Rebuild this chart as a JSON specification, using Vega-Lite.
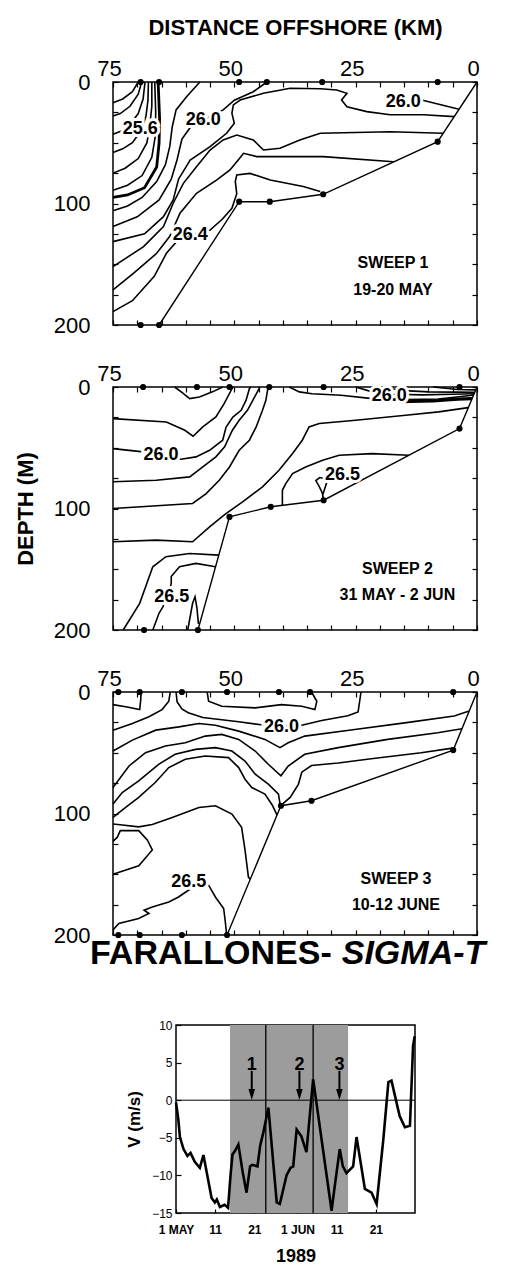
{
"$schema": "https://vega.github.io/schema/vega-lite/v6.json",
"autosize": {"type": "none"},
"padding": {"left": 113, "top": 82, "right": 392, "bottom": 1187},
"background": "white",
"config": {
  "font": "Liberation Sans",
  "view": {"stroke": "black", "strokeWidth": 1.5},
  "axis": {"labelColor": "black", "titleColor": "black", "tickColor": "black", "domainColor": "black", "labelFont": "Liberation Sans", "titleFont": "Liberation Sans", "grid": false},
  "text": {"color": "black"}
},
"datasets": {
  "ct": [
    {"p":1,"id":"1a","km":69.8,"d":0},{"p":1,"id":"1a","km":71,"d":8},{"p":1,"id":"1a","km":73,"d":14},{"p":1,"id":"1a","km":75,"d":17},
    {"p":1,"id":"1b","km":69.1,"d":0},{"p":1,"id":"1b","km":69.8,"d":10},{"p":1,"id":"1b","km":71.5,"d":20},{"p":1,"id":"1b","km":73.5,"d":26},{"p":1,"id":"1b","km":75,"d":28},
    {"p":1,"id":"1c","km":68.4,"d":0},{"p":1,"id":"1c","km":68.8,"d":14},{"p":1,"id":"1c","km":69.8,"d":26},{"p":1,"id":"1c","km":71.5,"d":35},{"p":1,"id":"1c","km":73,"d":40},{"p":1,"id":"1c","km":75,"d":43},
    {"p":1,"id":"1d","km":67.7,"d":0},{"p":1,"id":"1d","km":67.8,"d":15},{"p":1,"id":"1d","km":68.2,"d":28},{"p":1,"id":"1d","km":69.2,"d":40},{"p":1,"id":"1d","km":71,"d":50},{"p":1,"id":"1d","km":73,"d":55},{"p":1,"id":"1d","km":75,"d":58},
    {"p":1,"id":"1e","km":67,"d":0},{"p":1,"id":"1e","km":67,"d":20},{"p":1,"id":"1e","km":67.4,"d":35},{"p":1,"id":"1e","km":68,"d":50},{"p":1,"id":"1e","km":69.8,"d":63},{"p":1,"id":"1e","km":72.5,"d":71},{"p":1,"id":"1e","km":75,"d":75},
    {"p":1,"id":"1f","km":66.4,"d":0},{"p":1,"id":"1f","km":66.2,"d":25},{"p":1,"id":"1f","km":66.3,"d":45},{"p":1,"id":"1f","km":67,"d":62},{"p":1,"id":"1f","km":69,"d":77},{"p":1,"id":"1f","km":72,"d":85},{"p":1,"id":"1f","km":75,"d":89},
    {"p":1,"id":"1g","km":65.7,"d":0},{"p":1,"id":"1g","km":65.4,"d":30},{"p":1,"id":"1g","km":65.5,"d":50},{"p":1,"id":"1g","km":66,"d":70},{"p":1,"id":"1g","km":68.5,"d":87},{"p":1,"id":"1g","km":72,"d":93},{"p":1,"id":"1g","km":75,"d":95},
    {"p":1,"id":"1h","km":57.1,"d":0},{"p":1,"id":"1h","km":59.8,"d":12},{"p":1,"id":"1h","km":62,"d":23},{"p":1,"id":"1h","km":62.8,"d":37},{"p":1,"id":"1h","km":63.3,"d":53},{"p":1,"id":"1h","km":64.2,"d":68},{"p":1,"id":"1h","km":66,"d":82},{"p":1,"id":"1h","km":69,"d":95},{"p":1,"id":"1h","km":72,"d":102},{"p":1,"id":"1h","km":75,"d":106},
    {"p":1,"id":"1i","km":43.3,"d":0},{"p":1,"id":"1i","km":46.1,"d":8},{"p":1,"id":"1i","km":50,"d":15},{"p":1,"id":"1i","km":52.3,"d":23},{"p":1,"id":"1i","km":56.4,"d":31},{"p":1,"id":"1i","km":59,"d":37},{"p":1,"id":"1i","km":60.8,"d":47},{"p":1,"id":"1i","km":61.8,"d":64},{"p":1,"id":"1i","km":63,"d":80},{"p":1,"id":"1i","km":65.5,"d":97},{"p":1,"id":"1i","km":70,"d":111},{"p":1,"id":"1i","km":75,"d":119},
    {"p":1,"id":"1j","km":4.7,"d":28.5},{"p":1,"id":"1j","km":11,"d":27},{"p":1,"id":"1j","km":17.9,"d":27},{"p":1,"id":"1j","km":22.7,"d":24.4},{"p":1,"id":"1j","km":26.8,"d":20.3},{"p":1,"id":"1j","km":27.9,"d":14.8},{"p":1,"id":"1j","km":26.8,"d":9.3},{"p":1,"id":"1j","km":28.9,"d":6.6},{"p":1,"id":"1j","km":32.3,"d":5.5},{"p":1,"id":"1j","km":38.5,"d":5.2},{"p":1,"id":"1j","km":44,"d":9.3},{"p":1,"id":"1j","km":48.8,"d":14.8},{"p":1,"id":"1j","km":50.2,"d":18.9},{"p":1,"id":"1j","km":50.5,"d":25.8},{"p":1,"id":"1j","km":50,"d":34},{"p":1,"id":"1j","km":51.6,"d":42.2},{"p":1,"id":"1j","km":55,"d":53.2},{"p":1,"id":"1j","km":59.1,"d":64.2},{"p":1,"id":"1j","km":61.5,"d":80},{"p":1,"id":"1j","km":62.6,"d":97},{"p":1,"id":"1j","km":64.6,"d":110.8},{"p":1,"id":"1j","km":68.5,"d":125},{"p":1,"id":"1j","km":75,"d":131.4},
    {"p":1,"id":"1k","km":11.4,"d":14.8},{"p":1,"id":"1k","km":3.7,"d":22.5},
    {"p":1,"id":"1l","km":7,"d":42.2},{"p":1,"id":"1l","km":17.9,"d":41},{"p":1,"id":"1l","km":32.3,"d":42.2},{"p":1,"id":"1l","km":36.5,"d":47.7},{"p":1,"id":"1l","km":40.6,"d":54.6},{"p":1,"id":"1l","km":44,"d":56},{"p":1,"id":"1l","km":46.1,"d":47.7},{"p":1,"id":"1l","km":49.5,"d":43.6},{"p":1,"id":"1l","km":52.3,"d":47.7},{"p":1,"id":"1l","km":55,"d":56},{"p":1,"id":"1l","km":57.8,"d":69.7},{"p":1,"id":"1l","km":60.5,"d":83.4},{"p":1,"id":"1l","km":62.6,"d":99.8},{"p":1,"id":"1l","km":64.6,"d":119},{"p":1,"id":"1l","km":68.7,"d":135.5},{"p":1,"id":"1l","km":75,"d":152},
    {"p":1,"id":"1m","km":17.2,"d":65.6},{"p":1,"id":"1m","km":31.7,"d":61.4},{"p":1,"id":"1m","km":38.5,"d":61.4},{"p":1,"id":"1m","km":45.4,"d":61.4},{"p":1,"id":"1m","km":48.1,"d":58.7},{"p":1,"id":"1m","km":49.2,"d":64.2},{"p":1,"id":"1m","km":50.9,"d":72.4},{"p":1,"id":"1m","km":53.6,"d":80.6},{"p":1,"id":"1m","km":57.8,"d":91.6},{"p":1,"id":"1m","km":61.2,"d":108},{"p":1,"id":"1m","km":63.3,"d":127},{"p":1,"id":"1m","km":66,"d":141},{"p":1,"id":"1m","km":70.8,"d":157.5},{"p":1,"id":"1m","km":75,"d":171},
    {"p":1,"id":"1n","km":32.3,"d":90.2},{"p":1,"id":"1n","km":35.8,"d":86},{"p":1,"id":"1n","km":42.6,"d":80.6},{"p":1,"id":"1n","km":46.8,"d":75.2},{"p":1,"id":"1n","km":49.5,"d":76.5},{"p":1,"id":"1n","km":49.8,"d":82},{"p":1,"id":"1n","km":49.5,"d":92},{"p":1,"id":"1n","km":50.5,"d":104},{"p":1,"id":"1n","km":52.5,"d":113},{"p":1,"id":"1n","km":55,"d":121.8},{"p":1,"id":"1n","km":59.1,"d":126.5},{"p":1,"id":"1n","km":61.9,"d":131.4},{"p":1,"id":"1n","km":64,"d":141},{"p":1,"id":"1n","km":66.5,"d":160},{"p":1,"id":"1n","km":71,"d":180},{"p":1,"id":"1n","km":75,"d":189},

    {"p":2,"id":"2a","km":62.3,"d":0},{"p":2,"id":"2a","km":60.6,"d":5},{"p":2,"id":"2a","km":59.2,"d":9.5},{"p":2,"id":"2a","km":57.2,"d":8.2},{"p":2,"id":"2a","km":54.5,"d":4},{"p":2,"id":"2a","km":52.4,"d":0},
    {"p":2,"id":"2b","km":75,"d":26},{"p":2,"id":"2b","km":64,"d":28.8},{"p":2,"id":"2b","km":60.2,"d":35.6},{"p":2,"id":"2b","km":58.5,"d":40.5},{"p":2,"id":"2b","km":56.5,"d":32.9},{"p":2,"id":"2b","km":53.8,"d":24.7},{"p":2,"id":"2b","km":52.1,"d":13.7},{"p":2,"id":"2b","km":50.3,"d":0},
    {"p":2,"id":"2c","km":75,"d":50.7},{"p":2,"id":"2c","km":68.8,"d":53.4},{"p":2,"id":"2c","km":65,"d":56},{"p":2,"id":"2c","km":61,"d":59.4},{"p":2,"id":"2c","km":57.9,"d":57.5},{"p":2,"id":"2c","km":55.1,"d":52.1},{"p":2,"id":"2c","km":52.4,"d":43.8},{"p":2,"id":"2c","km":51.7,"d":32.9},{"p":2,"id":"2c","km":50.3,"d":24.7},{"p":2,"id":"2c","km":48.6,"d":19.2},{"p":2,"id":"2c","km":47.6,"d":11},{"p":2,"id":"2c","km":46.9,"d":1.4},{"p":2,"id":"2c","km":46.6,"d":0},
    {"p":2,"id":"2d","km":75,"d":78},{"p":2,"id":"2d","km":66.1,"d":76.7},{"p":2,"id":"2d","km":59.2,"d":74},{"p":2,"id":"2d","km":56.5,"d":65.8},{"p":2,"id":"2d","km":53.8,"d":57.5},{"p":2,"id":"2d","km":52,"d":49.3},{"p":2,"id":"2d","km":50.4,"d":35.6},{"p":2,"id":"2d","km":49,"d":27.4},{"p":2,"id":"2d","km":47.3,"d":19.2},{"p":2,"id":"2d","km":46.2,"d":11},{"p":2,"id":"2d","km":44.9,"d":1.4},{"p":2,"id":"2d","km":44.8,"d":0},
    {"p":2,"id":"2e","km":75,"d":100},{"p":2,"id":"2e","km":58.6,"d":95.9},{"p":2,"id":"2e","km":55.8,"d":87.7},{"p":2,"id":"2e","km":53.1,"d":76.7},{"p":2,"id":"2e","km":51,"d":65.8},{"p":2,"id":"2e","km":49,"d":52.1},{"p":2,"id":"2e","km":46.9,"d":43.8},{"p":2,"id":"2e","km":45.5,"d":32.9},{"p":2,"id":"2e","km":44.2,"d":19.2},{"p":2,"id":"2e","km":43.5,"d":11},{"p":2,"id":"2e","km":43.1,"d":1.4},{"p":2,"id":"2e","km":43,"d":0},
    {"p":2,"id":"2f","km":75,"d":127.4},{"p":2,"id":"2f","km":66.1,"d":126},{"p":2,"id":"2f","km":58.6,"d":127.4},{"p":2,"id":"2f","km":55.1,"d":115.1},{"p":2,"id":"2f","km":52,"d":105},{"p":2,"id":"2f","km":48.3,"d":94.5},{"p":2,"id":"2f","km":44.2,"d":82.2},{"p":2,"id":"2f","km":40.8,"d":68.5},{"p":2,"id":"2f","km":38,"d":54.8},{"p":2,"id":"2f","km":36,"d":43.8},{"p":2,"id":"2f","km":34.6,"d":32.9},{"p":2,"id":"2f","km":32.5,"d":30.1},{"p":2,"id":"2f","km":25,"d":27.4},{"p":2,"id":"2f","km":14.7,"d":23.3},{"p":2,"id":"2f","km":7.9,"d":20.5},{"p":2,"id":"2f","km":1.8,"d":17},
    {"p":2,"id":"2g","km":38.7,"d":0},{"p":2,"id":"2g","km":36.6,"d":4},{"p":2,"id":"2g","km":34,"d":5.5},{"p":2,"id":"2g","km":28,"d":6.8},{"p":2,"id":"2g","km":21.6,"d":9.6},{"p":2,"id":"2g","km":14.7,"d":10.4},{"p":2,"id":"2g","km":8,"d":9.9},{"p":2,"id":"2g","km":1.4,"d":7},{"p":2,"id":"2g","km":0.7,"d":6.5},
    {"p":2,"id":"2h","km":25,"d":0},{"p":2,"id":"2h","km":21.6,"d":4},{"p":2,"id":"2h","km":17,"d":6},{"p":2,"id":"2h","km":11.3,"d":6.5},{"p":2,"id":"2h","km":5,"d":6},{"p":2,"id":"2h","km":0.6,"d":5.5},
    {"p":2,"id":"2i","km":20,"d":0},{"p":2,"id":"2i","km":15,"d":3},{"p":2,"id":"2i","km":10,"d":4},{"p":2,"id":"2i","km":4,"d":4.2},{"p":2,"id":"2i","km":0.45,"d":4.3},
    {"p":2,"id":"2j","km":9,"d":0},{"p":2,"id":"2j","km":4,"d":2},{"p":2,"id":"2j","km":0.25,"d":2.4},
    {"p":2,"id":"2k","km":16,"d":12},{"p":2,"id":"2k","km":9,"d":11.5},{"p":2,"id":"2k","km":4,"d":10},{"p":2,"id":"2k","km":1,"d":9.5},
    {"p":2,"id":"2l","km":14,"d":56.2},{"p":2,"id":"2l","km":21.6,"d":54.8},{"p":2,"id":"2l","km":28.4,"d":56.2},{"p":2,"id":"2l","km":31.8,"d":60.3},{"p":2,"id":"2l","km":35.3,"d":65.8},{"p":2,"id":"2l","km":38,"d":71.2},{"p":2,"id":"2l","km":39.4,"d":79.5},{"p":2,"id":"2l","km":40.1,"d":85},{"p":2,"id":"2l","km":40.1,"d":97.4},
    {"p":2,"id":"2m","km":31.6,"d":92.6},{"p":2,"id":"2m","km":31.9,"d":87},{"p":2,"id":"2m","km":32.5,"d":82},{"p":2,"id":"2m","km":33.2,"d":77},{"p":2,"id":"2m","km":32.4,"d":74.5},{"p":2,"id":"2m","km":31.3,"d":75.5},{"p":2,"id":"2m","km":31,"d":79},{"p":2,"id":"2m","km":31.4,"d":84},{"p":2,"id":"2m","km":31.8,"d":89},{"p":2,"id":"2m","km":31.7,"d":92.6},
    {"p":2,"id":"2n","km":72.9,"d":200},{"p":2,"id":"2n","km":69.5,"d":178.1},{"p":2,"id":"2n","km":66.8,"d":148},{"p":2,"id":"2n","km":64.1,"d":139.7},{"p":2,"id":"2n","km":59.2,"d":137},{"p":2,"id":"2n","km":53.2,"d":138.4},
    {"p":2,"id":"2o","km":66.8,"d":200},{"p":2,"id":"2o","km":65.5,"d":186},{"p":2,"id":"2o","km":64.7,"d":180.8},{"p":2,"id":"2o","km":63.5,"d":170},{"p":2,"id":"2o","km":63,"d":161.7},{"p":2,"id":"2o","km":63,"d":156},{"p":2,"id":"2o","km":61.3,"d":148},{"p":2,"id":"2o","km":57.9,"d":145.2},{"p":2,"id":"2o","km":53.9,"d":147.9},
    {"p":2,"id":"2p","km":59.6,"d":200},{"p":2,"id":"2p","km":58.6,"d":178},{"p":2,"id":"2p","km":58.1,"d":172.6},{"p":2,"id":"2p","km":57.7,"d":182},{"p":2,"id":"2p","km":57.4,"d":195},

    {"p":3,"id":"3a","km":75,"d":10.4},{"p":3,"id":"3a","km":72.1,"d":12.4},{"p":3,"id":"3a","km":69.5,"d":14.5},{"p":3,"id":"3a","km":69.3,"d":7},{"p":3,"id":"3a","km":69.2,"d":0},
    {"p":3,"id":"3b","km":55.6,"d":0},{"p":3,"id":"3b","km":55.3,"d":7.6},{"p":3,"id":"3b","km":52.6,"d":11.7},{"p":3,"id":"3b","km":45.7,"d":13.1},{"p":3,"id":"3b","km":40.3,"d":10.4},{"p":3,"id":"3b","km":36.1,"d":11.7},{"p":3,"id":"3b","km":33.4,"d":14.5},{"p":3,"id":"3b","km":33,"d":7.6},{"p":3,"id":"3b","km":34.1,"d":0},
    {"p":3,"id":"3c","km":75,"d":31.4},{"p":3,"id":"3c","km":71,"d":25.9},{"p":3,"id":"3c","km":67.6,"d":20.4},{"p":3,"id":"3c","km":64.9,"d":14.5},{"p":3,"id":"3c","km":63.5,"d":7.6},{"p":3,"id":"3c","km":63.2,"d":0},
    {"p":3,"id":"3d","km":62,"d":0},{"p":3,"id":"3d","km":61.8,"d":8},{"p":3,"id":"3d","km":60.8,"d":14},{"p":3,"id":"3d","km":59.5,"d":17},{"p":3,"id":"3d","km":56.5,"d":21},{"p":3,"id":"3d","km":49.1,"d":24.5},{"p":3,"id":"3d","km":44.5,"d":27},{"p":3,"id":"3d","km":40.3,"d":28.5},{"p":3,"id":"3d","km":36.1,"d":27.3},{"p":3,"id":"3d","km":32,"d":23.4},{"p":3,"id":"3d","km":26.6,"d":19.6},{"p":3,"id":"3d","km":24.5,"d":16.4},{"p":3,"id":"3d","km":23.9,"d":0},
    {"p":3,"id":"3e","km":75,"d":48.6},{"p":3,"id":"3e","km":71,"d":39.6},{"p":3,"id":"3e","km":66.2,"d":31.4},{"p":3,"id":"3e","km":61.4,"d":28.7},{"p":3,"id":"3e","km":57.3,"d":25.9},{"p":3,"id":"3e","km":53.9,"d":27.3},{"p":3,"id":"3e","km":49.1,"d":32.2},{"p":3,"id":"3e","km":43.7,"d":39},{"p":3,"id":"3e","km":40.6,"d":45.8},{"p":3,"id":"3e","km":38.9,"d":41.8},{"p":3,"id":"3e","km":35.5,"d":36.3},{"p":3,"id":"3e","km":25.2,"d":30.8},{"p":3,"id":"3e","km":14.9,"d":25.4},{"p":3,"id":"3e","km":4.7,"d":19.8},{"p":3,"id":"3e","km":1.6,"d":15.6},
    {"p":3,"id":"3f","km":75,"d":78.6},{"p":3,"id":"3f","km":71.7,"d":60.9},{"p":3,"id":"3f","km":68.3,"d":50},{"p":3,"id":"3f","km":64.2,"d":44.5},{"p":3,"id":"3f","km":60.1,"d":41.8},{"p":3,"id":"3f","km":56,"d":36.3},{"p":3,"id":"3f","km":52.6,"d":34.9},{"p":3,"id":"3f","km":49.1,"d":39},{"p":3,"id":"3f","km":45.7,"d":48.6},{"p":3,"id":"3f","km":43,"d":59.5},{"p":3,"id":"3f","km":40.4,"d":69},{"p":3,"id":"3f","km":38.9,"d":60.9},{"p":3,"id":"3f","km":35.5,"d":51.3},{"p":3,"id":"3f","km":28.6,"d":45.8},{"p":3,"id":"3f","km":18.4,"d":39},{"p":3,"id":"3f","km":8.1,"d":33.5},{"p":3,"id":"3f","km":3.1,"d":30.2},
    {"p":3,"id":"3g","km":40.4,"d":93.3},{"p":3,"id":"3g","km":38.5,"d":86.8},{"p":3,"id":"3g","km":36.8,"d":76},{"p":3,"id":"3g","km":36.1,"d":66},{"p":3,"id":"3g","km":34.1,"d":60.5},{"p":3,"id":"3g","km":28.6,"d":58.5},{"p":3,"id":"3g","km":21.8,"d":55},{"p":3,"id":"3g","km":11.5,"d":50},{"p":3,"id":"3g","km":4.7,"d":46},
    {"p":3,"id":"3h","km":75,"d":92.2},{"p":3,"id":"3h","km":73.1,"d":82.7},{"p":3,"id":"3h","km":69.7,"d":73.1},{"p":3,"id":"3h","km":65.6,"d":59.5},{"p":3,"id":"3h","km":62.2,"d":51.3},{"p":3,"id":"3h","km":58,"d":47.2},{"p":3,"id":"3h","km":53.9,"d":45.8},{"p":3,"id":"3h","km":50.5,"d":48.6},{"p":3,"id":"3h","km":47.8,"d":56.8},{"p":3,"id":"3h","km":45.7,"d":67.7},{"p":3,"id":"3h","km":43,"d":75.9},{"p":3,"id":"3h","km":40.9,"d":84},{"p":3,"id":"3h","km":40.5,"d":94.6},
    {"p":3,"id":"3i","km":75,"d":103.2},{"p":3,"id":"3i","km":72.4,"d":95},{"p":3,"id":"3i","km":69.7,"d":86.8},{"p":3,"id":"3i","km":66.3,"d":74.5},{"p":3,"id":"3i","km":63.5,"d":62.2},{"p":3,"id":"3i","km":60.1,"d":55.4},{"p":3,"id":"3i","km":56,"d":52.7},{"p":3,"id":"3i","km":51.2,"d":54},{"p":3,"id":"3i","km":49.1,"d":62.2},{"p":3,"id":"3i","km":47.8,"d":71.8},{"p":3,"id":"3i","km":46.4,"d":78.6},{"p":3,"id":"3i","km":43.7,"d":84},{"p":3,"id":"3i","km":42.2,"d":93},{"p":3,"id":"3i","km":41.2,"d":101.3},
    {"p":3,"id":"3j","km":75,"d":108.6},{"p":3,"id":"3j","km":73.1,"d":109.5},{"p":3,"id":"3j","km":69.7,"d":111},{"p":3,"id":"3j","km":66.9,"d":109},{"p":3,"id":"3j","km":62.8,"d":103.2},{"p":3,"id":"3j","km":57.3,"d":95},{"p":3,"id":"3j","km":53.9,"d":93.6},{"p":3,"id":"3j","km":50.5,"d":100.5},{"p":3,"id":"3j","km":48.5,"d":111.4},{"p":3,"id":"3j","km":47.8,"d":130},{"p":3,"id":"3j","km":47.1,"d":152.3},{"p":3,"id":"3j","km":46.7,"d":154},
    {"p":3,"id":"3k","km":75,"d":123},{"p":3,"id":"3k","km":74.1,"d":119.5},{"p":3,"id":"3k","km":73.5,"d":114.1},{"p":3,"id":"3k","km":69.7,"d":114.1},{"p":3,"id":"3k","km":67.9,"d":122},{"p":3,"id":"3k","km":66.9,"d":130},{"p":3,"id":"3k","km":69.7,"d":143},{"p":3,"id":"3k","km":75,"d":150},
    {"p":3,"id":"3l","km":75,"d":195.9},{"p":3,"id":"3l","km":73.8,"d":190.5},{"p":3,"id":"3l","km":69.7,"d":186.4},{"p":3,"id":"3l","km":67.6,"d":182.3},{"p":3,"id":"3l","km":68.6,"d":179.6},{"p":3,"id":"3l","km":66.9,"d":176.9},{"p":3,"id":"3l","km":63.5,"d":172.8},{"p":3,"id":"3l","km":61.5,"d":168.7},{"p":3,"id":"3l","km":59.4,"d":163},{"p":3,"id":"3l","km":57,"d":159},{"p":3,"id":"3l","km":55.3,"d":159},{"p":3,"id":"3l","km":53.9,"d":168.7},{"p":3,"id":"3l","km":52.2,"d":178.2},{"p":3,"id":"3l","km":51.9,"d":187.7},{"p":3,"id":"3l","km":51.6,"d":199}
  ],
  "bt": [
    {"p":1,"km":0,"d":0},{"p":1,"km":8.1,"d":49.1},{"p":1,"km":31.7,"d":92.4},{"p":1,"km":42.7,"d":98.5},{"p":1,"km":49,"d":98.5},{"p":1,"km":65.5,"d":200},
    {"p":2,"km":0,"d":0},{"p":2,"km":3.6,"d":34.2},{"p":2,"km":31.6,"d":93.2},{"p":2,"km":42.5,"d":98.6},{"p":2,"km":51,"d":106.9},{"p":2,"km":57.5,"d":200},
    {"p":3,"km":0,"d":0},{"p":3,"km":4.9,"d":47.8},{"p":3,"km":34.1,"d":89.5},{"p":3,"km":40.4,"d":93.6},{"p":3,"km":51.5,"d":200}
  ],
  "st": [
    {"p":1,"km":69.3,"d":0},{"p":1,"km":65.5,"d":0},{"p":1,"km":49,"d":0},{"p":1,"km":43.3,"d":0},{"p":1,"km":31.9,"d":0},{"p":1,"km":8.1,"d":0},
    {"p":1,"km":8.1,"d":49.1},{"p":1,"km":31.7,"d":92.4},{"p":1,"km":42.7,"d":98.5},{"p":1,"km":49,"d":98.5},{"p":1,"km":69.3,"d":200},{"p":1,"km":65.5,"d":200},
    {"p":2,"km":68.8,"d":0},{"p":2,"km":57.7,"d":0},{"p":2,"km":51,"d":0},{"p":2,"km":42.8,"d":0},{"p":2,"km":31.6,"d":0},{"p":2,"km":3.6,"d":0},
    {"p":2,"km":3.6,"d":34.2},{"p":2,"km":31.6,"d":93.2},{"p":2,"km":42.5,"d":98.6},{"p":2,"km":51,"d":106.9},{"p":2,"km":68.6,"d":200},{"p":2,"km":57.5,"d":200},
    {"p":3,"km":73.9,"d":0},{"p":3,"km":69.5,"d":0},{"p":3,"km":60.8,"d":0},{"p":3,"km":51.5,"d":0},{"p":3,"km":40.8,"d":0},{"p":3,"km":34.4,"d":0},{"p":3,"km":4.9,"d":0},
    {"p":3,"km":4.9,"d":47.8},{"p":3,"km":34.1,"d":89.5},{"p":3,"km":40.4,"d":93.6},{"p":3,"km":73.9,"d":200},{"p":3,"km":69.5,"d":200},{"p":3,"km":60.8,"d":200},{"p":3,"km":51.5,"d":200}
  ],
  "lb": [
    {"p":1,"km":69.4,"d":39,"t":"25.6"},{"p":1,"km":56.4,"d":31,"t":"26.0"},{"p":1,"km":15.2,"d":16.2,"t":"26.0"},{"p":1,"km":59.1,"d":126,"t":"26.4"},
    {"p":2,"km":65.1,"d":56.2,"t":"26.0"},{"p":2,"km":18.1,"d":7.7,"t":"26.0"},{"p":2,"km":27.7,"d":72.6,"t":"26.5"},{"p":2,"km":62.9,"d":172.6,"t":"26.5"},
    {"p":3,"km":40.3,"d":28.9,"t":"26.0"},{"p":3,"km":59.4,"d":156.4,"t":"26.5"}
  ],
  "ts": [
    {"t":"1989-05-01T00:00:00Z","v":-0.3},{"t":"1989-05-01T14:00:00Z","v":-2.5},{"t":"1989-05-02T00:00:00Z","v":-4.9},{"t":"1989-05-02T22:00:00Z","v":-6.5},
    {"t":"1989-05-03T22:00:00Z","v":-7.4},{"t":"1989-05-04T17:00:00Z","v":-7.0},{"t":"1989-05-05T19:00:00Z","v":-8.2},{"t":"1989-05-07T02:00:00Z","v":-9.0},
    {"t":"1989-05-08T00:00:00Z","v":-7.3},{"t":"1989-05-10T02:00:00Z","v":-13.0},{"t":"1989-05-10T22:00:00Z","v":-13.6},{"t":"1989-05-11T10:00:00Z","v":-13.2},
    {"t":"1989-05-12T05:00:00Z","v":-14.2},{"t":"1989-05-13T10:00:00Z","v":-13.9},{"t":"1989-05-14T07:00:00Z","v":-14.3},{"t":"1989-05-14T22:00:00Z","v":-10.0},
    {"t":"1989-05-15T10:00:00Z","v":-7.2},{"t":"1989-05-16T00:00:00Z","v":-6.8},{"t":"1989-05-16T22:00:00Z","v":-5.9},{"t":"1989-05-18T00:00:00Z","v":-9.5},
    {"t":"1989-05-19T00:00:00Z","v":-12.3},{"t":"1989-05-19T22:00:00Z","v":-8.8},{"t":"1989-05-20T12:00:00Z","v":-8.6},{"t":"1989-05-21T19:00:00Z","v":-8.8},
    {"t":"1989-05-22T12:00:00Z","v":-6.0},{"t":"1989-05-23T07:00:00Z","v":-4.3},{"t":"1989-05-24T14:00:00Z","v":-1.0},{"t":"1989-05-26T17:00:00Z","v":-13.6},
    {"t":"1989-05-27T12:00:00Z","v":-13.8},{"t":"1989-05-29T05:00:00Z","v":-10.0},{"t":"1989-05-30T05:00:00Z","v":-9.0},{"t":"1989-05-30T22:00:00Z","v":-8.8},
    {"t":"1989-05-31T19:00:00Z","v":-3.9},{"t":"1989-06-02T00:00:00Z","v":-4.8},{"t":"1989-06-03T07:00:00Z","v":-6.9},{"t":"1989-06-05T00:00:00Z","v":2.8},
    {"t":"1989-06-09T17:00:00Z","v":-14.7},{"t":"1989-06-10T12:00:00Z","v":-11.5},{"t":"1989-06-11T19:00:00Z","v":-6.5},{"t":"1989-06-12T14:00:00Z","v":-8.8},
    {"t":"1989-06-13T12:00:00Z","v":-9.7},{"t":"1989-06-15T05:00:00Z","v":-8.8},{"t":"1989-06-16T02:00:00Z","v":-4.9},{"t":"1989-06-18T05:00:00Z","v":-11.8},
    {"t":"1989-06-19T22:00:00Z","v":-12.3},{"t":"1989-06-21T05:00:00Z","v":-13.8},{"t":"1989-06-22T22:00:00Z","v":-5.2},{"t":"1989-06-24T05:00:00Z","v":2.4},
    {"t":"1989-06-25T00:00:00Z","v":2.6},{"t":"1989-06-27T02:00:00Z","v":-2.1},{"t":"1989-06-28T10:00:00Z","v":-3.6},{"t":"1989-06-29T17:00:00Z","v":-3.4},
    {"t":"1989-06-30T12:00:00Z","v":7.2},{"t":"1989-06-30T22:00:00Z","v":8.5}
  ],
  "sh": [{"s":"1989-05-14T19:00:00Z","e":"1989-06-13T22:00:00Z"}],
  "vl": [{"t":"1989-05-23T22:00:00Z"},{"t":"1989-06-05T00:00:00Z"}],
  "ar": [{"t":"1989-05-20T08:00:00Z","n":"1"},{"t":"1989-06-01T12:00:00Z","n":"2"},{"t":"1989-06-11T17:00:00Z","n":"3"}]
},
"spacing": 45,
"vconcat": [
 {"spacing": 24, "vconcat": [
  {"width": 364, "height": 243,
   "resolve": {"axis": {"x": "independent", "y": "independent"}},
   "layer": [
    {"data": {"name": "ct"}, "transform": [{"filter": "datum.p == 1 && datum.id != '1g'"}],
     "mark": {"type": "line", "color": "black", "strokeWidth": 1.6},
     "encoding": {
      "x": {"field": "km", "type": "quantitative", "scale": {"domain": [0, 75], "reverse": true, "nice": false, "zero": false},
            "axis": {"orient": "top", "values": [0,5,10,15,20,25,30,35,40,45,50,55,60,65,70,75], "labelExpr": "datum.value % 25 == 0 ? datum.label : ''", "tickSize": -5, "tickWidth": 1.2, "domain": false, "labelFontSize": 22, "labelPadding": 7, "labelOffset": -4, "labelFlush": false, "labelOverlap": false, "labelBound": false, "title": "DISTANCE OFFSHORE (KM)", "titleFontSize": 22, "titleFontWeight": "bold", "titlePadding": 18}},
      "y": {"field": "d", "type": "quantitative", "scale": {"domain": [0, 200], "reverse": true, "nice": false, "zero": false},
            "axis": {"orient": "left", "values": [0,25,50,75,100,125,150,175,200], "labelExpr": "datum.value % 100 == 0 ? datum.label : ''", "tickSize": -5, "tickWidth": 1.2, "domain": false, "labelFontSize": 22, "labelPadding": 28, "labelFlush": false, "labelOverlap": false, "title": null}},
      "detail": {"field": "id"},
      "order": {"value": null}}},
    {"data": {"name": "ct"}, "transform": [{"filter": "datum.id == '1g'"}],
     "mark": {"type": "line", "color": "black", "strokeWidth": 2.8},
     "encoding": {
      "x": {"field": "km", "type": "quantitative", "scale": {"domain": [0, 75], "reverse": true, "nice": false, "zero": false}, "axis": null},
      "y": {"field": "d", "type": "quantitative", "scale": {"domain": [0, 200], "reverse": true, "nice": false, "zero": false}, "axis": null},
      "order": {"value": null}}},
    {"data": {"name": "bt"}, "transform": [{"filter": "datum.p == 1"}],
     "mark": {"type": "line", "color": "black", "strokeWidth": 1.4},
     "encoding": {
      "x": {"field": "km", "type": "quantitative", "scale": {"domain": [0, 75], "reverse": true, "nice": false, "zero": false},
            "axis": {"orient": "bottom", "values": [0,5,10,15,20,25,30,35,40,45,50,55,60,65,70,75], "labels": false, "tickSize": -5, "tickWidth": 1.2, "domain": false, "title": null}},
      "y": {"field": "d", "type": "quantitative", "scale": {"domain": [0, 200], "reverse": true, "nice": false, "zero": false},
            "axis": {"orient": "right", "values": [0,25,50,75,100,125,150,175,200], "labels": false, "tickSize": -5, "tickWidth": 1.2, "domain": false, "title": null}},
      "order": {"value": null}}},
    {"data": {"name": "st"}, "transform": [{"filter": "datum.p == 1"}],
     "mark": {"type": "circle", "color": "black", "size": 38, "opacity": 1},
     "encoding": {
      "x": {"field": "km", "type": "quantitative", "scale": {"domain": [0, 75], "reverse": true, "nice": false, "zero": false}, "axis": null},
      "y": {"field": "d", "type": "quantitative", "scale": {"domain": [0, 200], "reverse": true, "nice": false, "zero": false}, "axis": null}}},
    {"data": {"name": "lb"}, "transform": [{"filter": "datum.p == 1"}],
     "mark": {"type": "text", "fontSize": 18, "fontWeight": "bold", "fill": "white", "stroke": "white", "strokeWidth": 6, "baseline": "middle"},
     "encoding": {
      "x": {"field": "km", "type": "quantitative", "scale": {"domain": [0, 75], "reverse": true, "nice": false, "zero": false}, "axis": null},
      "y": {"field": "d", "type": "quantitative", "scale": {"domain": [0, 200], "reverse": true, "nice": false, "zero": false}, "axis": null},
      "text": {"field": "t"}}},
    {"data": {"name": "lb"}, "transform": [{"filter": "datum.p == 1"}],
     "mark": {"type": "text", "fontSize": 18, "fontWeight": "bold", "color": "black", "baseline": "middle"},
     "encoding": {
      "x": {"field": "km", "type": "quantitative", "scale": {"domain": [0, 75], "reverse": true, "nice": false, "zero": false}, "axis": null},
      "y": {"field": "d", "type": "quantitative", "scale": {"domain": [0, 200], "reverse": true, "nice": false, "zero": false}, "axis": null},
      "text": {"field": "t"}}},
    {"data": {"values": [{}]},
     "mark": {"type": "text", "text": ["SWEEP 1", "19-20 MAY"], "fontSize": 16, "fontWeight": "bold", "color": "black", "baseline": "top", "align": "center", "lineHeight": 27},
     "encoding": {
      "x": {"datum": 17.3, "type": "quantitative", "scale": {"domain": [0, 75], "reverse": true, "nice": false, "zero": false}, "axis": null},
      "y": {"datum": 142.4, "type": "quantitative", "scale": {"domain": [0, 200], "reverse": true, "nice": false, "zero": false}, "axis": null}}}
   ]},
  {"width": 364, "height": 243,
   "resolve": {"axis": {"x": "independent", "y": "independent"}},
   "layer": [
    {"data": {"name": "ct"}, "transform": [{"filter": "datum.p == 2 && datum.id != '2k'"}],
     "mark": {"type": "line", "color": "black", "strokeWidth": 1.6},
     "encoding": {
      "x": {"field": "km", "type": "quantitative", "scale": {"domain": [0, 75], "reverse": true, "nice": false, "zero": false},
            "axis": {"orient": "top", "values": [0,5,10,15,20,25,30,35,40,45,50,55,60,65,70,75], "labelExpr": "datum.value % 25 == 0 ? datum.label : ''", "tickSize": -5, "tickWidth": 1.2, "domain": false, "labelFontSize": 22, "labelPadding": 7, "labelOffset": -4, "labelFlush": false, "labelOverlap": false, "labelBound": false, "title": null}},
      "y": {"field": "d", "type": "quantitative", "scale": {"domain": [0, 200], "reverse": true, "nice": false, "zero": false},
            "axis": {"orient": "left", "values": [0,25,50,75,100,125,150,175,200], "labelExpr": "datum.value % 100 == 0 ? datum.label : ''", "tickSize": -5, "tickWidth": 1.2, "domain": false, "labelFontSize": 22, "labelPadding": 28, "labelFlush": false, "labelOverlap": false, "title": "DEPTH (M)", "titleFontSize": 22, "titleFontWeight": "bold", "titlePadding": 16}},
      "detail": {"field": "id"},
      "order": {"value": null}}},
    {"data": {"name": "ct"}, "transform": [{"filter": "datum.id == '2k'"}],
     "mark": {"type": "line", "color": "black", "strokeWidth": 3.2},
     "encoding": {
      "x": {"field": "km", "type": "quantitative", "scale": {"domain": [0, 75], "reverse": true, "nice": false, "zero": false}, "axis": null},
      "y": {"field": "d", "type": "quantitative", "scale": {"domain": [0, 200], "reverse": true, "nice": false, "zero": false}, "axis": null},
      "order": {"value": null}}},
    {"data": {"name": "bt"}, "transform": [{"filter": "datum.p == 2"}],
     "mark": {"type": "line", "color": "black", "strokeWidth": 1.4},
     "encoding": {
      "x": {"field": "km", "type": "quantitative", "scale": {"domain": [0, 75], "reverse": true, "nice": false, "zero": false},
            "axis": {"orient": "bottom", "values": [0,5,10,15,20,25,30,35,40,45,50,55,60,65,70,75], "labels": false, "tickSize": -5, "tickWidth": 1.2, "domain": false, "title": null}},
      "y": {"field": "d", "type": "quantitative", "scale": {"domain": [0, 200], "reverse": true, "nice": false, "zero": false},
            "axis": {"orient": "right", "values": [0,25,50,75,100,125,150,175,200], "labels": false, "tickSize": -5, "tickWidth": 1.2, "domain": false, "title": null}},
      "order": {"value": null}}},
    {"data": {"name": "st"}, "transform": [{"filter": "datum.p == 2"}],
     "mark": {"type": "circle", "color": "black", "size": 38, "opacity": 1},
     "encoding": {
      "x": {"field": "km", "type": "quantitative", "scale": {"domain": [0, 75], "reverse": true, "nice": false, "zero": false}, "axis": null},
      "y": {"field": "d", "type": "quantitative", "scale": {"domain": [0, 200], "reverse": true, "nice": false, "zero": false}, "axis": null}}},
    {"data": {"name": "lb"}, "transform": [{"filter": "datum.p == 2"}],
     "mark": {"type": "text", "fontSize": 18, "fontWeight": "bold", "fill": "white", "stroke": "white", "strokeWidth": 6, "baseline": "middle"},
     "encoding": {
      "x": {"field": "km", "type": "quantitative", "scale": {"domain": [0, 75], "reverse": true, "nice": false, "zero": false}, "axis": null},
      "y": {"field": "d", "type": "quantitative", "scale": {"domain": [0, 200], "reverse": true, "nice": false, "zero": false}, "axis": null},
      "text": {"field": "t"}}},
    {"data": {"name": "lb"}, "transform": [{"filter": "datum.p == 2"}],
     "mark": {"type": "text", "fontSize": 18, "fontWeight": "bold", "color": "black", "baseline": "middle"},
     "encoding": {
      "x": {"field": "km", "type": "quantitative", "scale": {"domain": [0, 75], "reverse": true, "nice": false, "zero": false}, "axis": null},
      "y": {"field": "d", "type": "quantitative", "scale": {"domain": [0, 200], "reverse": true, "nice": false, "zero": false}, "axis": null},
      "text": {"field": "t"}}},
    {"data": {"values": [{}]},
     "mark": {"type": "text", "text": ["SWEEP 2", "31 MAY - 2 JUN"], "fontSize": 16, "fontWeight": "bold", "color": "black", "baseline": "top", "align": "center", "lineHeight": 26},
     "encoding": {
      "x": {"datum": 16.4, "type": "quantitative", "scale": {"domain": [0, 75], "reverse": true, "nice": false, "zero": false}, "axis": null},
      "y": {"datum": 143.5, "type": "quantitative", "scale": {"domain": [0, 200], "reverse": true, "nice": false, "zero": false}, "axis": null}}}
   ]},
  {"width": 364, "height": 243,
   "resolve": {"axis": {"x": "independent", "y": "independent"}},
   "layer": [
    {"data": {"name": "ct"}, "transform": [{"filter": "datum.p == 3"}],
     "mark": {"type": "line", "color": "black", "strokeWidth": 1.6},
     "encoding": {
      "x": {"field": "km", "type": "quantitative", "scale": {"domain": [0, 75], "reverse": true, "nice": false, "zero": false},
            "axis": {"orient": "top", "values": [0,5,10,15,20,25,30,35,40,45,50,55,60,65,70,75], "labelExpr": "datum.value % 25 == 0 ? datum.label : ''", "tickSize": -5, "tickWidth": 1.2, "domain": false, "labelFontSize": 22, "labelPadding": 7, "labelOffset": -4, "labelFlush": false, "labelOverlap": false, "labelBound": false, "title": null}},
      "y": {"field": "d", "type": "quantitative", "scale": {"domain": [0, 200], "reverse": true, "nice": false, "zero": false},
            "axis": {"orient": "left", "values": [0,25,50,75,100,125,150,175,200], "labelExpr": "datum.value % 100 == 0 ? datum.label : ''", "tickSize": -5, "tickWidth": 1.2, "domain": false, "labelFontSize": 22, "labelPadding": 28, "labelFlush": false, "labelOverlap": false, "title": null}},
      "detail": {"field": "id"},
      "order": {"value": null}}},
    {"data": {"name": "bt"}, "transform": [{"filter": "datum.p == 3"}],
     "mark": {"type": "line", "color": "black", "strokeWidth": 1.4},
     "encoding": {
      "x": {"field": "km", "type": "quantitative", "scale": {"domain": [0, 75], "reverse": true, "nice": false, "zero": false},
            "axis": {"orient": "bottom", "values": [0,5,10,15,20,25,30,35,40,45,50,55,60,65,70,75], "labels": false, "tickSize": -5, "tickWidth": 1.2, "domain": false, "title": null}},
      "y": {"field": "d", "type": "quantitative", "scale": {"domain": [0, 200], "reverse": true, "nice": false, "zero": false},
            "axis": {"orient": "right", "values": [0,25,50,75,100,125,150,175,200], "labels": false, "tickSize": -5, "tickWidth": 1.2, "domain": false, "title": null}},
      "order": {"value": null}}},
    {"data": {"name": "st"}, "transform": [{"filter": "datum.p == 3"}],
     "mark": {"type": "circle", "color": "black", "size": 38, "opacity": 1},
     "encoding": {
      "x": {"field": "km", "type": "quantitative", "scale": {"domain": [0, 75], "reverse": true, "nice": false, "zero": false}, "axis": null},
      "y": {"field": "d", "type": "quantitative", "scale": {"domain": [0, 200], "reverse": true, "nice": false, "zero": false}, "axis": null}}},
    {"data": {"name": "lb"}, "transform": [{"filter": "datum.p == 3"}],
     "mark": {"type": "text", "fontSize": 18, "fontWeight": "bold", "fill": "white", "stroke": "white", "strokeWidth": 6, "baseline": "middle"},
     "encoding": {
      "x": {"field": "km", "type": "quantitative", "scale": {"domain": [0, 75], "reverse": true, "nice": false, "zero": false}, "axis": null},
      "y": {"field": "d", "type": "quantitative", "scale": {"domain": [0, 200], "reverse": true, "nice": false, "zero": false}, "axis": null},
      "text": {"field": "t"}}},
    {"data": {"name": "lb"}, "transform": [{"filter": "datum.p == 3"}],
     "mark": {"type": "text", "fontSize": 18, "fontWeight": "bold", "color": "black", "baseline": "middle"},
     "encoding": {
      "x": {"field": "km", "type": "quantitative", "scale": {"domain": [0, 75], "reverse": true, "nice": false, "zero": false}, "axis": null},
      "y": {"field": "d", "type": "quantitative", "scale": {"domain": [0, 200], "reverse": true, "nice": false, "zero": false}, "axis": null},
      "text": {"field": "t"}}},
    {"data": {"values": [{}]},
     "mark": {"type": "text", "text": ["SWEEP 3", "10-12 JUNE"], "fontSize": 16, "fontWeight": "bold", "color": "black", "baseline": "top", "align": "center", "lineHeight": 26},
     "encoding": {
      "x": {"datum": 16.7, "type": "quantitative", "scale": {"domain": [0, 75], "reverse": true, "nice": false, "zero": false}, "axis": null},
      "y": {"datum": 147.7, "type": "quantitative", "scale": {"domain": [0, 200], "reverse": true, "nice": false, "zero": false}, "axis": null}}},
    {"data": {"values": [{}]},
     "mark": {"type": "text", "text": "FARALLONES-", "font": "Liberation Sans", "fontSize": 34, "fontWeight": "bold", "color": "black", "baseline": "middle", "align": "right", "dx": -5},
     "encoding": {
      "x": {"datum": 28.9, "type": "quantitative", "scale": {"domain": [0, 75], "reverse": true, "nice": false, "zero": false}, "axis": null},
      "y": {"datum": 216, "type": "quantitative", "scale": {"domain": [0, 200], "reverse": true, "nice": false, "zero": false}, "axis": null}}},
    {"data": {"values": [{}]},
     "mark": {"type": "text", "text": "SIGMA-T", "font": "Liberation Sans", "fontSize": 34, "fontWeight": "bold", "fontStyle": "italic", "color": "black", "baseline": "middle", "align": "left", "dx": 5},
     "encoding": {
      "x": {"datum": 28.9, "type": "quantitative", "scale": {"domain": [0, 75], "reverse": true, "nice": false, "zero": false}, "axis": null},
      "y": {"datum": 216, "type": "quantitative", "scale": {"domain": [0, 200], "reverse": true, "nice": false, "zero": false}, "axis": null}}}
   ]}
 ]},
 {"spacing": 0, "hconcat": [
  {"width": 11, "height": 1, "view": {"stroke": null}, "data": {"values": []}, "mark": "point", "encoding": {}},
  {"width": 239, "height": 188,
   "layer": [
    {"data": {"name": "sh"}, "mark": {"type": "rect", "color": "#9c9c9c"},
     "encoding": {
      "x": {"field": "s", "type": "temporal",
            "scale": {"type": "utc", "domain": [{"year": 1989, "month": 5, "date": 1, "utc": true}, {"year": 1989, "month": 7, "date": 1, "utc": true}], "nice": false},
            "axis": {"orient": "bottom", "values": [{"year": 1989, "month": 5, "date": 1, "utc": true}, {"year": 1989, "month": 5, "date": 11, "utc": true}, {"year": 1989, "month": 5, "date": 21, "utc": true}, {"year": 1989, "month": 6, "date": 1, "utc": true}, {"year": 1989, "month": 6, "date": 11, "utc": true}, {"year": 1989, "month": 6, "date": 21, "utc": true}],
                     "labelExpr": "utcdate(datum.value) == 1 ? (utcmonth(datum.value) == 4 ? '1 MAY' : '1 JUN') : '' + utcdate(datum.value)",
                     "tickSize": -4, "tickWidth": 1.2, "domain": false, "labelFont": "Liberation Sans", "labelFontWeight": "bold", "labelFontSize": 12, "labelPadding": 15, "labelOverlap": false, "labelFlush": false,
                     "title": "1989", "titleFont": "Liberation Sans", "titleFontSize": 18, "titleFontWeight": "bold", "titlePadding": 12}},
      "x2": {"field": "e"}}},
    {"data": {"values": [{}]}, "mark": {"type": "rule", "color": "black", "strokeWidth": 1},
     "encoding": {"y": {"datum": 0, "type": "quantitative", "scale": {"domain": [-15, 10], "nice": false, "zero": false},
            "axis": {"orient": "left", "values": [-15, -10, -5, 0, 5, 10], "tickSize": -5, "tickWidth": 1.2, "domain": false, "labelFontSize": 12, "labelPadding": 9, "labelFlush": false, "labelOverlap": false,
                     "title": "V (m/s)", "titleFontSize": 17, "titleFontWeight": "bold", "titlePadding": 8}}}},
    {"data": {"name": "vl"}, "mark": {"type": "rule", "color": "black", "strokeWidth": 1.3},
     "encoding": {"x": {"field": "t", "type": "temporal", "scale": {"type": "utc", "domain": [{"year": 1989, "month": 5, "date": 1, "utc": true}, {"year": 1989, "month": 7, "date": 1, "utc": true}], "nice": false}}}},
    {"data": {"name": "ts"}, "mark": {"type": "line", "color": "black", "strokeWidth": 2.6},
     "encoding": {
      "x": {"field": "t", "type": "temporal", "scale": {"type": "utc", "domain": [{"year": 1989, "month": 5, "date": 1, "utc": true}, {"year": 1989, "month": 7, "date": 1, "utc": true}], "nice": false}},
      "y": {"field": "v", "type": "quantitative", "scale": {"domain": [-15, 10], "nice": false, "zero": false},
            "axis": {"orient": "left", "values": [-15, -10, -5, 0, 5, 10], "tickSize": -5, "tickWidth": 1.2, "domain": false, "labelFontSize": 12, "labelPadding": 9, "labelFlush": false, "labelOverlap": false,
                     "title": "V (m/s)", "titleFontSize": 17, "titleFontWeight": "bold", "titlePadding": 8}}}},
    {"data": {"name": "ar"}, "mark": {"type": "rule", "color": "black", "strokeWidth": 2},
     "encoding": {
      "x": {"field": "t", "type": "temporal", "scale": {"type": "utc", "domain": [{"year": 1989, "month": 5, "date": 1, "utc": true}, {"year": 1989, "month": 7, "date": 1, "utc": true}], "nice": false}},
      "y": {"datum": 3.9, "type": "quantitative", "scale": {"domain": [-15, 10], "nice": false, "zero": false},
            "axis": {"orient": "left", "values": [-15, -10, -5, 0, 5, 10], "tickSize": -5, "tickWidth": 1.2, "domain": false, "labelFontSize": 12, "labelPadding": 9, "labelFlush": false, "labelOverlap": false,
                     "title": "V (m/s)", "titleFontSize": 17, "titleFontWeight": "bold", "titlePadding": 8}},
      "y2": {"datum": 1.4}}},
    {"data": {"name": "ar"}, "mark": {"type": "point", "shape": "M-0.6,-1L0.6,-1L0,1Z", "size": 120, "filled": true, "color": "black", "opacity": 1},
     "encoding": {
      "x": {"field": "t", "type": "temporal", "scale": {"type": "utc", "domain": [{"year": 1989, "month": 5, "date": 1, "utc": true}, {"year": 1989, "month": 7, "date": 1, "utc": true}], "nice": false}},
      "y": {"datum": 0.75, "type": "quantitative", "scale": {"domain": [-15, 10], "nice": false, "zero": false},
            "axis": {"orient": "left", "values": [-15, -10, -5, 0, 5, 10], "tickSize": -5, "tickWidth": 1.2, "domain": false, "labelFontSize": 12, "labelPadding": 9, "labelFlush": false, "labelOverlap": false,
                     "title": "V (m/s)", "titleFontSize": 17, "titleFontWeight": "bold", "titlePadding": 8}}}},
    {"data": {"name": "ar"}, "mark": {"type": "text", "fontSize": 18, "fontWeight": "bold", "color": "black", "baseline": "middle"},
     "encoding": {
      "x": {"field": "t", "type": "temporal", "scale": {"type": "utc", "domain": [{"year": 1989, "month": 5, "date": 1, "utc": true}, {"year": 1989, "month": 7, "date": 1, "utc": true}], "nice": false}},
      "y": {"datum": 4.7, "type": "quantitative", "scale": {"domain": [-15, 10], "nice": false, "zero": false},
            "axis": {"orient": "left", "values": [-15, -10, -5, 0, 5, 10], "tickSize": -5, "tickWidth": 1.2, "domain": false, "labelFontSize": 12, "labelPadding": 9, "labelFlush": false, "labelOverlap": false,
                     "title": "V (m/s)", "titleFontSize": 17, "titleFontWeight": "bold", "titlePadding": 8}},
      "text": {"field": "n"}}}
   ]}
 ]}
]
}
